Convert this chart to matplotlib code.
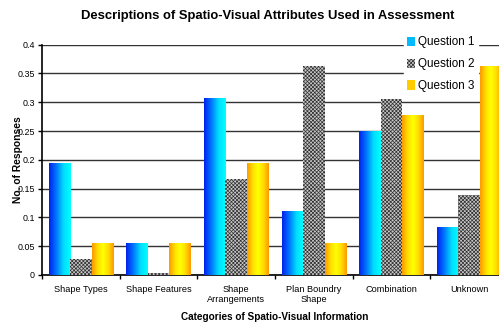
import numpy as np
import matplotlib
matplotlib.use("Agg")
from matplotlib import pyplot as plt
from matplotlib.colors import LinearSegmentedColormap
from matplotlib.patches import Patch

plt.rcParams['font.family'] = ['Liberation Sans', 'DejaVu Sans']
plt.rcParams['hatch.linewidth'] = 0.5

categories = ['Shape Types', 'Shape Features', 'Shape\nArrangements',
              'Plan Boundry\nShape', 'Combination', 'Unknown']
question1 = [0.194, 0.056, 0.307, 0.111, 0.250, 0.083]
question2 = [0.028, 0.003, 0.167, 0.363, 0.306, 0.139]
question3 = [0.056, 0.056, 0.194, 0.056, 0.278, 0.363]
series_names = ['Question 1', 'Question 2', 'Question 3']

blue_cmap = LinearSegmentedColormap.from_list(
    'q1', ['#0022ee', '#0077ff', '#00ddff', '#00ffff'])
gold_cmap = LinearSegmentedColormap.from_list(
    'q3', ['#ff9900', '#ffdd00', '#ffff00', '#ffdd00', '#ff9900'])

fig = plt.figure(figsize=(4.99, 3.25), dpi=100)
ax = fig.add_axes([42 / 499, 50 / 325, 466 / 499, 230.3 / 325])

x = np.arange(len(categories))
w = 0.275
grad = np.linspace(0, 1, 64).reshape(1, -1)


def gradient_bars(xs, vals, cmap):
    bars = ax.bar(xs, vals, w, color='none', edgecolor='none', zorder=3)
    for b in bars:
        x0, y0 = b.get_x(), b.get_y()
        im = ax.imshow(grad, cmap=cmap, aspect='auto', zorder=3,
                       extent=(x0, x0 + b.get_width(), y0, y0 + b.get_height()))
        im.set_clip_path(b)
    return bars


gradient_bars(x - w, question1, blue_cmap)
ax.bar(x, question2, w, color='#c8c8c8', edgecolor='#303030', hatch='xxxxxxxxx',
       linewidth=0, zorder=3)
gradient_bars(x + w, question3, gold_cmap)

ax.set_xlim(-0.5, len(categories) - 0.5)
ax.set_ylim(0, 0.4)
ax.set_yticks(np.arange(0, 0.41, 0.05))
ax.set_yticklabels(['0', '0.05', '0.1', '0.15', '0.2', '0.25', '0.3', '0.35', '0.4'])
ax.yaxis.grid(True, color='#333333', linewidth=1)
ax.set_axisbelow(True)

ax.set_xticks(x)
ax.set_xticklabels(categories, fontsize=6.6)
ax.set_xticks(np.arange(-0.5, len(categories), 1), minor=True)
ax.tick_params(axis='x', which='major', length=0, pad=7)
ax.tick_params(axis='x', which='minor', length=3, width=1, direction='out')
ax.tick_params(axis='y', length=3, width=1, labelsize=6.4, pad=2)
for side in ['top', 'right']:
    ax.spines[side].set_visible(False)
ax.spines['left'].set_linewidth(1.2)
ax.spines['bottom'].set_linewidth(1.2)

ax.set_xlabel('Categories of Spatio-Visual Information', fontsize=7.2,
              fontweight='bold', labelpad=6)
ax.set_ylabel('No. of Responses', fontsize=7.4, fontweight='bold', labelpad=-4)
fig.suptitle('Descriptions of Spatio-Visual Attributes Used in Assessment',
             x=268 / 499, y=0.968, fontsize=9.4, fontweight='bold')

handles = [Patch(facecolor='#00bbff'),
           Patch(facecolor='#c8c8c8', edgecolor='#303030', hatch='xxxxxxxxx', linewidth=0),
           Patch(facecolor='#ffcc00')]
leg = fig.legend(handles, series_names, loc='upper left',
                 bbox_to_anchor=(398 / 499, 1 - 27 / 325), fontsize=8.4,
                 handlelength=0.65, handleheight=0.85, handletextpad=0.3,
                 labelspacing=0.85, borderpad=0.3, frameon=True, fancybox=False)
leg.get_frame().set_edgecolor('white')
leg.get_frame().set_facecolor('white')
leg.get_frame().set_alpha(1)

fig.savefig('out.png', dpi=100)
